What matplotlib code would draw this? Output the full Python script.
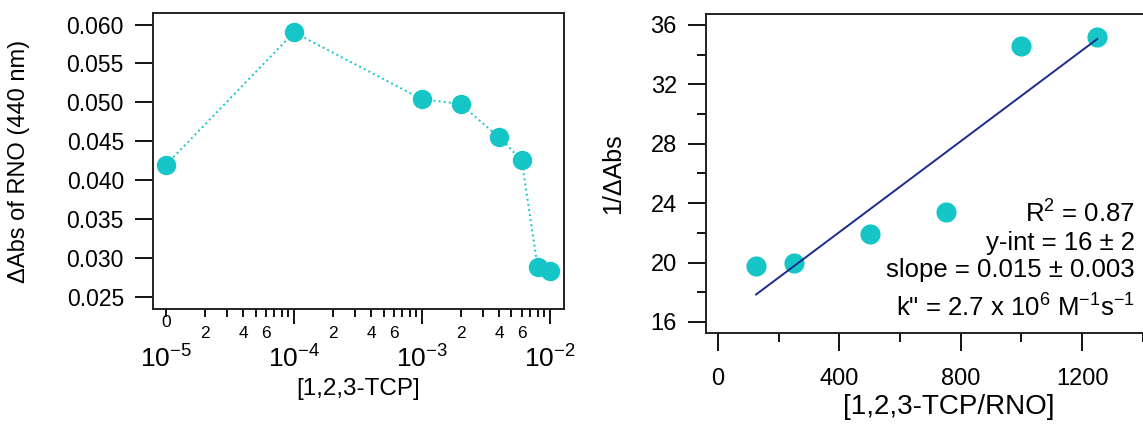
import numpy as np
import matplotlib
matplotlib.use('Agg')
import matplotlib.pyplot as plt
from matplotlib import ticker, transforms

plt.rcParams['font.family'] = ['Liberation Sans', 'DejaVu Sans']
plt.rcParams['mathtext.default'] = 'regular'

# left panel: change in RNO absorbance vs 1,2,3-TCP concentration
tcp_conc = [1e-5, 1e-4, 1e-3, 2e-3, 4e-3, 6e-3, 8e-3, 1e-2]
delta_abs = [0.0420, 0.0590, 0.0504, 0.0498, 0.0455, 0.0426, 0.0289, 0.0284]
left_yticks = [0.025, 0.030, 0.035, 0.040, 0.045, 0.050, 0.055, 0.060]
decades = [1e-5, 1e-4, 1e-3, 1e-2]
decade_labels = ['$10^{-5}$', '$10^{-4}$', '$10^{-3}$', '$10^{-2}$']

# right panel: 1/dAbs vs TCP/RNO ratio
ratio = [125, 250, 500, 750, 1000, 1250]
inv_abs = [19.8, 20.0, 21.9, 23.4, 34.6, 35.2]
right_xticks = [0, 400, 800, 1200]
right_yticks = [16, 20, 24, 28, 32, 36]
fit_text = ['R$^{2}$ = 0.87', 'y-int = 16 ± 2', 'slope = 0.015 ± 0.003',
            'k" = 2.7 x 10$^{6}$ M$^{-1}$s$^{-1}$']

teal = '#16c6c6'
navy = '#1c2a8c'

fig = plt.figure(figsize=(11.43, 4.28), dpi=100)

# ---- left panel ----
ax1 = fig.add_axes([0.1339, 0.278, 0.3596, 0.6916])
ax1.plot(tcp_conc, delta_abs, ':', color=teal, lw=1.4, zorder=2)
ax1.plot(tcp_conc, delta_abs, 'o', color=teal, ms=14, mec='none', zorder=3)
ax1.set_xscale('log')
ax1.set_xlim(10 ** -5.102, 10 ** -1.89)
ax1.set_ylim(0.02346, 0.06148)
ax1.set_yticks(left_yticks)
ax1.yaxis.set_major_formatter(ticker.FormatStrFormatter('%.3f'))

ax1.xaxis.set_major_locator(ticker.FixedLocator(decades[1:]))
ax1.xaxis.set_major_formatter(ticker.NullFormatter())
minor = [m * d for d in decades[:-1] for m in range(1, 10)]
ax1.xaxis.set_minor_locator(ticker.FixedLocator(minor))


def minor_label(v, pos):
    m = int(round(v / 10 ** np.floor(np.log10(v) + 1e-9)))
    return str(m) if m in (2, 4, 6) else ''


ax1.xaxis.set_minor_formatter(ticker.FuncFormatter(minor_label))

trans1 = transforms.blended_transform_factory(ax1.transData, ax1.transAxes)
for d, lab in zip(decades, decade_labels):
    ax1.text(d, -0.199, lab, transform=trans1, ha='center', va='baseline',
             fontsize=19, clip_on=False)
ax1.text(decades[0], -0.061, '0', transform=trans1, ha='center', va='baseline',
         fontsize=12.5, clip_on=False)

ax1.set_ylabel('ΔAbs of RNO (440 nm)', fontsize=17)
ax1.yaxis.set_label_coords(-0.30, 0.5)
ax1.set_xlabel('[1,2,3-TCP]', fontsize=17.5)
ax1.xaxis.set_label_coords(0.5, -0.233)

ax1.tick_params(axis='y', which='major', direction='out', length=13, width=1.3,
                pad=8, labelsize=16.5)
ax1.tick_params(axis='x', which='major', direction='out', length=11, width=1.3)
ax1.tick_params(axis='x', which='minor', direction='out', length=6, width=1.3,
                pad=6, labelsize=12.5)

# ---- right panel ----
ax2 = fig.add_axes([0.6177, 0.222, 0.398, 0.7453])
ax2.plot(ratio, inv_abs, 'o', color=teal, ms=14.5, mec='none', zorder=2)
slope, intercept = np.polyfit(ratio, inv_abs, 1)
xfit = np.array([min(ratio), max(ratio)])
ax2.plot(xfit, intercept + slope * xfit, '-', color=navy, lw=1.4, zorder=3)
ax2.set_xlim(-40, 1460)
ax2.set_ylim(15.26, 36.74)
ax2.set_xticks(right_xticks)
ax2.set_xticks([200, 600, 1000, 1400], minor=True)
ax2.set_yticks(right_yticks)
ax2.set_yticks([18, 22, 26, 30, 34], minor=True)

for t, yy in zip(fit_text, [0.345, 0.260, 0.176, 0.050]):
    ax2.text(0.943, yy, t, transform=ax2.transAxes, ha='right', va='baseline',
             fontsize=18.5)

ax2.set_ylabel('1/ΔAbs', fontsize=18)
ax2.yaxis.set_label_coords(-0.178, 0.5)
ax2.set_xlabel('[1,2,3-TCP/RNO]', fontsize=20)
ax2.xaxis.set_label_coords(0.534, -0.19)

ax2.tick_params(axis='both', which='major', direction='out', length=13, width=1.3,
                labelsize=17)
ax2.tick_params(axis='y', which='major', pad=8)
ax2.tick_params(axis='x', which='major', pad=12)
ax2.tick_params(axis='both', which='minor', direction='out', length=6.5, width=1.3)

for ax in (ax1, ax2):
    for s in ax.spines.values():
        s.set_linewidth(1.4)
        s.set_color('#222222')

fig.savefig('out.png', dpi=100)
